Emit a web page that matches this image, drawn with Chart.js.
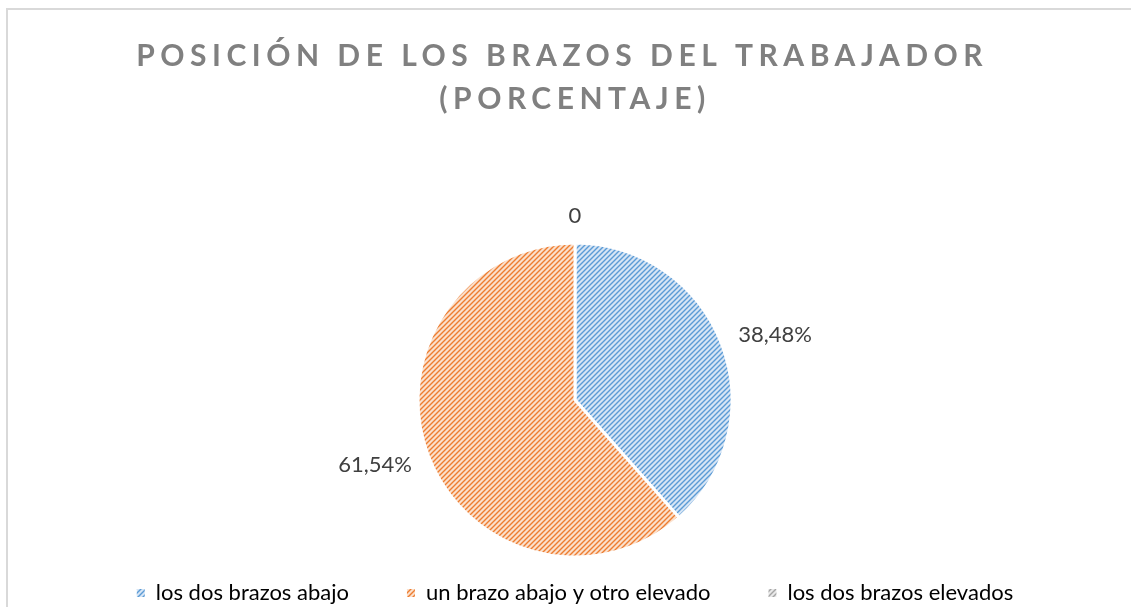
<!DOCTYPE html>
<html>
<head>
<meta charset="utf-8">
<script src="https://cdn.jsdelivr.net/npm/chart.js@4/dist/chart.umd.min.js"></script>
<style>
  html, body { margin: 0; padding: 0; background: #fff; }
  #wrap { width: 1131px; height: 607px; position: relative; }
</style>
</head>
<body>
<div id="wrap"><canvas id="pieChart"></canvas></div>
<script>
// datos del grafico
const categories = ['los dos brazos abajo', 'un brazo abajo y otro elevado', 'los dos brazos elevados'];
const porcentajes = [38.48, 61.54, 0];
const etiquetas = ['38,48%', '61,54%', '0'];
const titulo = ['POSICIÓN DE LOS BRAZOS DEL TRABAJADOR\u00a0\u00a0', '(PORCENTAJE)'];

// rayado diagonal tipo Excel
function stripes(bg, fg) {
  const c = document.createElement('canvas');
  c.width = 5; c.height = 5;
  const g = c.getContext('2d');
  g.fillStyle = bg;
  g.fillRect(0, 0, 5, 5);
  g.strokeStyle = fg;
  g.lineWidth = 1.4;
  g.beginPath();
  g.moveTo(-1, 6); g.lineTo(6, -1);
  g.moveTo(-1, 1); g.lineTo(1, -1);
  g.moveTo(4, 6); g.lineTo(6, 4);
  g.stroke();
  return g.createPattern(c, 'repeat');
}

const fills = [
  stripes('#d6e5f5', '#5b9bd5'),
  stripes('#fbe0cc', '#ed7d31'),
  stripes('#e8e8e8', '#a5a5a5')
];

// marco del grafico
const frame = {
  id: 'frame',
  beforeDraw(chart) {
    const ctx = chart.ctx;
    ctx.save();
    ctx.strokeStyle = '#d9d9d9';
    ctx.lineWidth = 2;
    ctx.strokeRect(7, 9, 1200, 700);
    ctx.restore();
  }
};

// espaciado de letras del titulo
const spacedTitle = {
  id: 'spacedTitle',
  afterLayout(chart) {
    const tb = chart.titleBlock;
    if (tb && !tb._spaced) {
      const orig = tb.draw;
      tb.draw = function () {
        const c = this.ctx;
        c.save();
        c.letterSpacing = '5.5px';
        orig.apply(this, arguments);
        c.restore();
      };
      tb._spaced = true;
    }
  }
};

// etiquetas de datos fuera del circulo
const dataLabels = {
  id: 'dataLabels',
  afterDatasetsDraw(chart) {
    const ctx = chart.ctx;
    const meta = chart.getDatasetMeta(0);
    ctx.save();
    ctx.font = '22px Lato';
    ctx.fillStyle = '#404040';
    ctx.textAlign = 'center';
    ctx.textBaseline = 'middle';
    meta.data.forEach((arc, i) => {
      const p = arc.getProps(['x', 'y', 'startAngle', 'endAngle', 'outerRadius'], true);
      const mid = (p.startAngle + p.endAngle) / 2;
      const cos = Math.cos(mid), sin = Math.sin(mid);
      const w = ctx.measureText(etiquetas[i]).width;
      const x = p.x + (p.outerRadius + 20) * cos + (w / 2) * cos;
      const y = p.y + (p.outerRadius + 15) * sin + 12 * sin;
      ctx.fillText(etiquetas[i], x, y);
    });
    ctx.restore();
  }
};

const data = {
  labels: categories,
  datasets: [{
    data: porcentajes,
    backgroundColor: fills,
    borderColor: '#ffffff',
    borderWidth: 3,
    radius: 157,
    clip: false
  }]
};

const config = {
  type: 'pie',
  data: data,
  options: {
    responsive: false,
    animation: false,
    layout: { padding: { left: 19, bottom: -7 } },
    plugins: {
      title: {
        display: true,
        text: titulo,
        color: '#808080',
        font: { family: 'Lato', size: 30, weight: 'bold', lineHeight: 1.433 },
        padding: { top: 35, bottom: 155 }
      },
      legend: {
        position: 'bottom',
        labels: {
          color: '#595959',
          font: { family: 'Lato', size: 22 },
          boxWidth: 8,
          boxHeight: 8,
          padding: 58,
          generateLabels(chart) {
            return categories.map((c, i) => ({
              text: c,
              fillStyle: fills[i],
              strokeStyle: fills[i],
              lineWidth: 0,
              index: i,
              hidden: false
            }));
          }
        }
      },
      tooltip: { enabled: false }
    }
  },
  plugins: [frame, spacedTitle, dataLabels]
};

window.onload = function () {
  const cv = document.getElementById('pieChart');
  cv.width = 1131;
  cv.height = 607;
  new Chart(cv.getContext('2d'), config);
};
</script>
</body>
</html>
